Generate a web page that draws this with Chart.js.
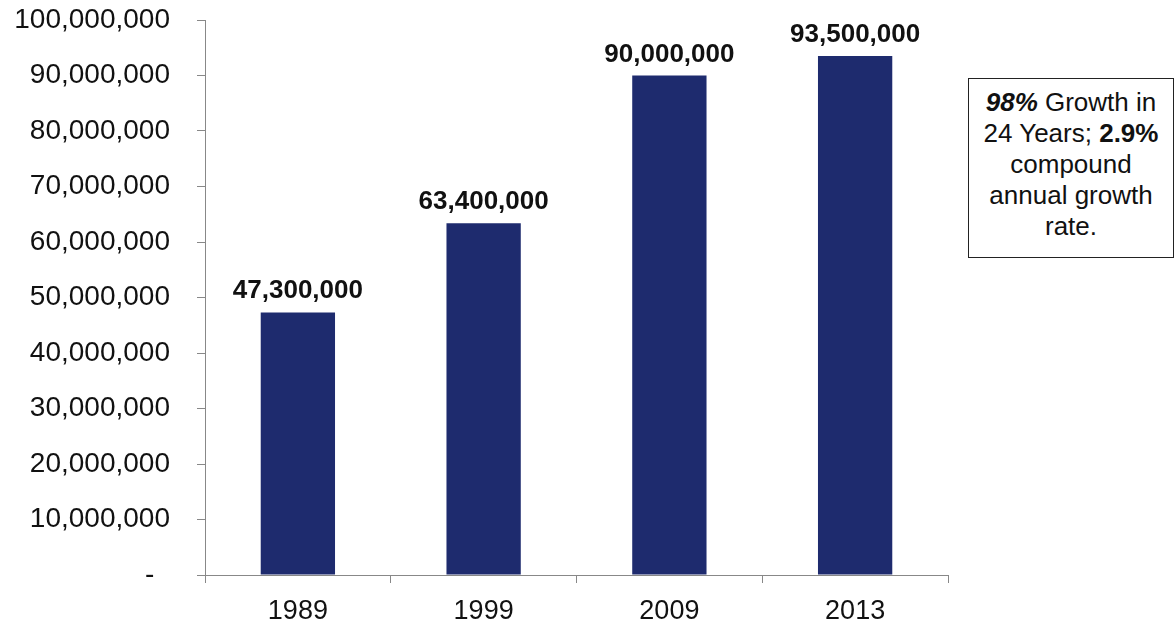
<!DOCTYPE html>
<html>
<head>
<meta charset="utf-8">
<script src="https://cdn.jsdelivr.net/npm/chart.js@4/dist/chart.umd.min.js"></script>
<style>
  html, body { margin: 0; padding: 0; background: #ffffff; overflow: hidden; }
  #wrap { position: relative; width: 1175px; height: 623px; }
  #c { position: absolute; left: 0; top: 0; }
  #note {
    position: absolute; left: 968px; top: 78px; width: 206px; height: 180px;
    box-sizing: border-box; border: 1.5px solid #222; background: #fff;
    font-family: "Liberation Sans", Arial, sans-serif; font-size: 26px; line-height: 31px;
    color: #111; text-align: center; padding-top: 8px;
  }
</style>
</head>
<body>
<div id="wrap">
  <canvas id="c" width="1175" height="623"></canvas>
  <div id="note"><b><i>98%</i></b> Growth in<br>24 Years; <b>2.9%</b><br>compound<br>annual growth<br>rate.</div>
</div>
<script>
const years = ["1989", "1999", "2009", "2013"];
const visitors = [47300000, 63400000, 90000000, 93500000];
const yTicks = [0, 10000000, 20000000, 30000000, 40000000, 50000000, 60000000, 70000000, 80000000, 90000000, 100000000];

const FONT = '"Liberation Sans", Arial, sans-serif';
const fmt = v => v.toLocaleString('en-US');

const valueLabels = {
  id: 'valueLabels',
  afterDatasetsDraw(chart) {
    const ctx = chart.ctx;
    const meta = chart.getDatasetMeta(0);
    ctx.save();
    ctx.font = 'bold 26px ' + FONT;
    ctx.fillStyle = '#111';
    ctx.textAlign = 'center';
    ctx.textBaseline = 'alphabetic';
    meta.data.forEach((bar, i) => {
      ctx.fillText(fmt(chart.data.datasets[0].data[i]), bar.x, bar.y - 14);
    });
    ctx.restore();
  }
};

new Chart(document.getElementById('c'), {
  type: 'bar',
  data: {
    labels: years,
    datasets: [{
      data: visitors,
      backgroundColor: '#1E2B6E',
      borderWidth: 0,
      categoryPercentage: 0.4,
      barPercentage: 1.0
    }]
  },
  options: {
    responsive: false,
    devicePixelRatio: 1,
    animation: false,
    layout: { padding: { top: 20, right: 227, left: 0, bottom: 0 } },
    plugins: { legend: { display: false }, tooltip: { enabled: false } },
    scales: {
      x: {
        offset: true,
        grid: { offset: true, drawOnChartArea: false, drawTicks: true, tickLength: 8, color: '#888' },
        border: { color: '#888', width: 1 },
        ticks: { font: { family: FONT, size: 27 }, color: '#111', padding: 12, maxRotation: 0 },
        afterFit: s => { s.height = 48; s.paddingLeft = 0; s.paddingRight = 0; }
      },
      y: {
        min: 0,
        max: 100000000,
        afterBuildTicks: s => { s.ticks = yTicks.map(v => ({ value: v })); },
        grid: { drawOnChartArea: false, drawTicks: true, tickLength: 8, color: '#888' },
        border: { color: '#888', width: 1 },
        ticks: {
          font: { family: FONT, size: 28 }, color: '#111', padding: 27,
          callback: v => v === 0 ? '-  ' : fmt(v)
        },
        afterFit: s => { s.width = 205; s.paddingTop = 0; s.paddingBottom = 0; }
      }
    }
  },
  plugins: [valueLabels]
});
</script>
</body>
</html>
